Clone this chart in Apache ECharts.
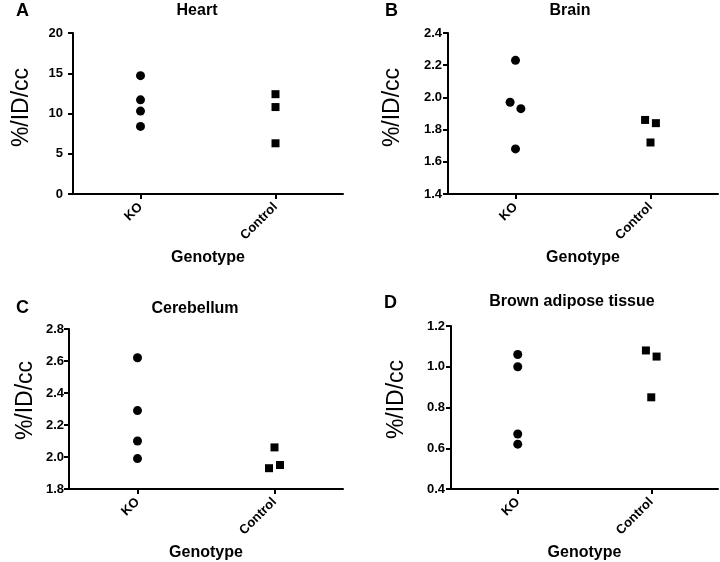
<!DOCTYPE html>
<html>
<head>
<meta charset="utf-8">
<script src="https://cdn.jsdelivr.net/npm/echarts@6/dist/echarts.min.js"></script>
<style>
  html, body { margin: 0; padding: 0; background: #fff; }
  #chart { width: 720px; height: 562px; }
</style>
</head>
<body>
<div id="chart"></div>
<script>
// ---- data ----
const categories = ['KO', 'Control'];
const panelLetters = ['A', 'B', 'C', 'D'];
const panelTitles = ['Heart', 'Brain', 'Cerebellum', 'Brown adipose tissue'];
const yAxisName = '%/ID/cc';
const xAxisName = 'Genotype';

// y-axis ranges: [min, max, interval]
const yMin = [0, 1.4, 1.8, 0.4];
const yMax = [20, 2.4, 2.8, 1.2];
const yStep = [5, 0.2, 0.2, 0.2];

// values
const heartKO = [14.7, 11.7, 10.3, 8.4];
const heartControl = [12.4, 10.8, 6.3];
const brainKO = [2.23, 1.97, 1.93, 1.68];
const brainControl = [1.86, 1.84, 1.72];
const cerebellumKO = [2.62, 2.29, 2.10, 1.99];
const cerebellumControl = [2.06, 1.93, 1.95];
const batKO = [1.06, 1.00, 0.67, 0.62];
const batControl = [1.08, 1.05, 0.85];

// horizontal scatter offsets of each point around its category (in category units)
const heartKOJitter = [0, 0, 0, 0];
const heartControlJitter = [0, 0, 0];
const brainKOJitter = [0, -0.04, 0.04, 0];
const brainControlJitter = [-0.04, 0.04, 0];
const cerebellumKOJitter = [0, 0, 0, 0];
const cerebellumControlJitter = [0, -0.04, 0.04];
const batKOJitter = [0, 0, 0, 0];
const batControlJitter = [-0.04, 0.04, 0];

const koValues = [heartKO, brainKO, cerebellumKO, batKO];
const controlValues = [heartControl, brainControl, cerebellumControl, batControl];
const koJitter = [heartKOJitter, brainKOJitter, cerebellumKOJitter, batKOJitter];
const controlJitter = [heartControlJitter, brainControlJitter, cerebellumControlJitter, batControlJitter];

// ---- layout ----
const grids = [
  { left: 73, top: 33, width: 270, height: 161 },
  { left: 448, top: 33, width: 270, height: 161 },
  { left: 69, top: 329, width: 274, height: 162 },
  { left: 451, top: 326, width: 267, height: 163 }
];
const titlePos = [
  { x: 197, y: 3 }, { x: 570, y: 3 }, { x: 195, y: 301 }, { x: 572, y: 294 }
];
const letterPos = [
  { x: 16, y: 2 }, { x: 385, y: 2 }, { x: 16, y: 299 }, { x: 384, y: 294 }
];
const yNameGap = [40, 44, 32, 43];
const yNameShift = [12, 12, 17, 16];
const yLabelMargin = [10, 6, 5, 6];

const FONT = 'Liberation Sans, Arial, Helvetica, sans-serif';

const option = {
  backgroundColor: '#fff',
  animation: false,
  title: [],
  grid: [],
  xAxis: [],
  yAxis: [],
  series: []
};

for (let i = 0; i < 4; i++) {
  option.title.push({
    text: panelTitles[i], left: titlePos[i].x, top: titlePos[i].y, textAlign: 'center',
    padding: 0,
    textStyle: { fontFamily: FONT, fontSize: 16, fontWeight: 'bold', color: '#000' }
  });
  option.title.push({
    text: panelLetters[i], left: letterPos[i].x, top: letterPos[i].y, padding: 0,
    textStyle: { fontFamily: FONT, fontSize: 18, fontWeight: 'bold', color: '#000' }
  });
  option.grid.push(Object.assign({ containLabel: false }, grids[i]));
  option.xAxis.push({
    gridIndex: i, type: 'value', min: 0, max: 2,
    name: xAxisName, nameLocation: 'middle', nameGap: 56,
    nameTextStyle: { fontFamily: FONT, fontSize: 16, fontWeight: 'bold', color: '#000' },
    axisLine: { show: true, onZero: false, lineStyle: { color: '#000', width: 2 } },
    axisTick: { show: true, length: 5, customValues: [0.5, 1.5], lineStyle: { color: '#000', width: 2 } },
    axisLabel: {
      customValues: [0.5, 1.5], rotate: 45, margin: 11,
      formatter: v => categories[Math.round(v - 0.5)],
      fontFamily: FONT, fontSize: 13, fontWeight: 'bold', color: '#000'
    },
    splitLine: { show: false }
  });
  option.yAxis.push({
    gridIndex: i, type: 'value', min: yMin[i], max: yMax[i], interval: yStep[i],
    name: yAxisName, nameLocation: 'middle', nameGap: yNameGap[i],
    nameTextStyle: { fontFamily: FONT, fontSize: 23, color: '#000', padding: [0, 0, 0, yNameShift[i]] },
    axisLine: { show: true, lineStyle: { color: '#000', width: 2 } },
    axisTick: { show: true, length: 5, lineStyle: { color: '#000', width: 2 } },
    axisLabel: {
      margin: yLabelMargin[i],
      formatter: v => (i === 0 ? String(Math.round(v)) : v.toFixed(1)),
      fontFamily: FONT, fontSize: 13, fontWeight: 'bold', color: '#000'
    },
    splitLine: { show: false }
  });
  option.series.push({
    name: categories[0], type: 'scatter', xAxisIndex: i, yAxisIndex: i,
    symbol: 'circle', symbolSize: 9,
    itemStyle: { color: '#000', opacity: 1 },
    data: koValues[i].map((v, k) => [0.5 + koJitter[i][k], v])
  });
  option.series.push({
    name: categories[1], type: 'scatter', xAxisIndex: i, yAxisIndex: i,
    symbol: 'rect', symbolSize: 8,
    itemStyle: { color: '#000', opacity: 1 },
    data: controlValues[i].map((v, k) => [1.5 + controlJitter[i][k], v])
  });
}

const chart = echarts.init(document.getElementById('chart'));
chart.setOption(option);
</script>
</body>
</html>
